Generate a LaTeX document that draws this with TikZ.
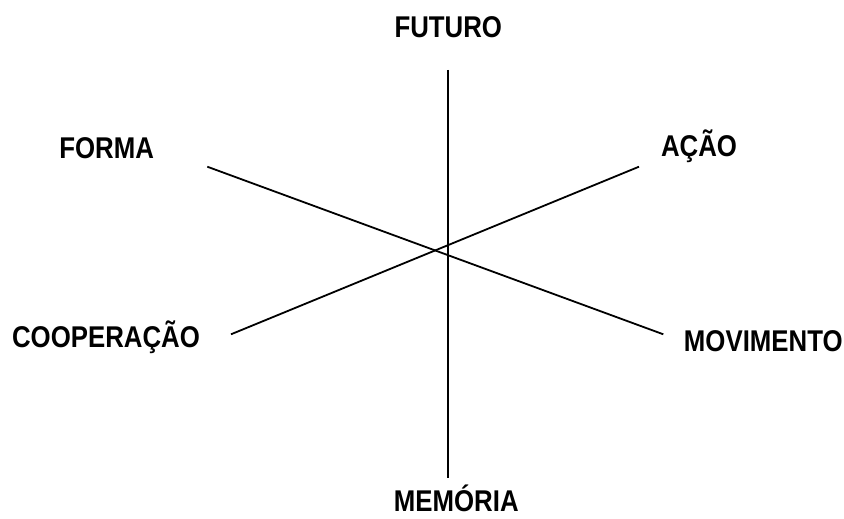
\documentclass[tikz,border=0pt]{standalone}
\usepackage{fontspec}
\setmainfont{Liberation Sans}[FakeStretch=0.86]
\begin{document}
\begin{tikzpicture}[x=1pt,y=-1pt,
  lbl/.style={font=\fontsize{30}{33}\selectfont\bfseries, anchor=base, inner sep=0pt},
  axis/.style={line width=1.8pt, black}]
\useasboundingbox (0,0) rectangle (844,519);
\node[lbl] (futuro) at (448.3,37.7) {FUTURO};
\node[lbl] (forma) at (106.7,158.3) {FORMA};
\node[lbl] (acao) at (699,156.7) {AÇÃO};
\node[lbl] (coop) at (106,347) {COOPERAÇÃO};
\node[lbl] (movim) at (763.3,351) {MOVIMENTO};
\node[lbl] (memoria) at (456.3,511.5) {MEMÓRIA};
\coordinate (vt) at (447.7,70);
\coordinate (vb) at (447.7,478);
\coordinate (fa) at (207.3,166.7);
\coordinate (mo) at (663.3,334.3);
\coordinate (co) at (231,334.3);
\coordinate (ac) at (639,166.7);
\draw[axis] (vt) -- (vb);
\draw[axis] (fa) -- (mo);
\draw[axis] (co) -- (ac);
\end{tikzpicture}
\end{document}
